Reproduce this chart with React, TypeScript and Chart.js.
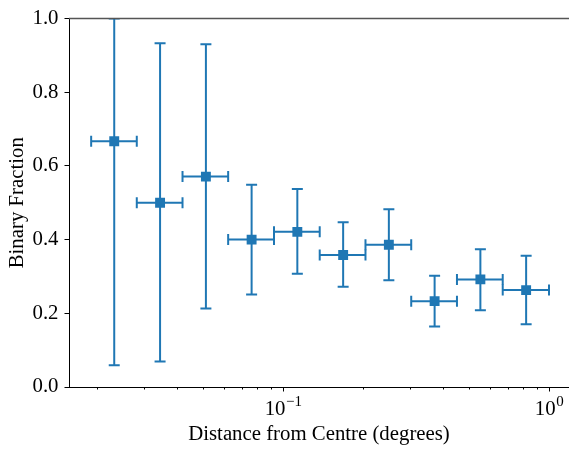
import React, { useEffect, useRef } from "react";
import { Chart, registerables } from "chart.js";

Chart.register(...registerables);

// ---- data ----
const xCenters = [0.0232, 0.0345, 0.0513, 0.0762, 0.1132, 0.1683, 0.25, 0.3715, 0.5521, 0.8204];
const xLow = [0.019, 0.0282, 0.0419, 0.0622, 0.0925, 0.1374, 0.2042, 0.3034, 0.4508, 0.6699];
const xHigh = [0.0282, 0.0419, 0.0622, 0.0925, 0.1374, 0.2042, 0.3034, 0.4508, 0.6699, 1.0];
const binaryFraction = [0.667, 0.5, 0.571, 0.4, 0.421, 0.358, 0.386, 0.233, 0.292, 0.263];
const yLow = [0.059, 0.069, 0.213, 0.251, 0.307, 0.272, 0.29, 0.164, 0.208, 0.17];
const yHigh = [1.0, 0.933, 0.93, 0.549, 0.537, 0.447, 0.482, 0.302, 0.374, 0.356];

const xTickValues = [0.02, 0.03, 0.04, 0.05, 0.06, 0.07, 0.08, 0.09, 0.1, 0.2, 0.3, 0.4, 0.5, 0.6, 0.7, 0.8, 0.9, 1.0];
const xMajorTicks = [0.1, 1.0];
const xMajorExponents = ["\u22121", "0"];
const yTickValues = [0, 0.2, 0.4, 0.6, 0.8, 1.0];

const X_MIN = 0.015683;
const X_MAX = 1.189;
const Y_MIN = 0;
const Y_MAX = 1;

const COLOR = "#1f77b4";
const FONT = "'Liberation Serif', 'Times New Roman', serif";
const FS = 20.8;

const errorBarPlugin = {
  id: "errorBars",
  beforeDatasetsDraw(chart: any) {
    const { ctx, chartArea } = chart;
    const xs = chart.scales.x;
    const ys = chart.scales.y;
    ctx.save();
    ctx.beginPath();
    ctx.rect(chartArea.left, chartArea.top, chartArea.right - chartArea.left, chartArea.bottom - chartArea.top);
    ctx.clip();
    ctx.strokeStyle = COLOR;
    ctx.lineWidth = 2;
    const cap = 5.5;
    for (let i = 0; i < xCenters.length; i++) {
      const px = xs.getPixelForValue(xCenters[i]);
      const py = ys.getPixelForValue(binaryFraction[i]);
      const x0 = xs.getPixelForValue(xLow[i]);
      const x1 = xs.getPixelForValue(xHigh[i]);
      const y0 = ys.getPixelForValue(yLow[i]);
      const y1 = ys.getPixelForValue(yHigh[i]);
      ctx.beginPath();
      ctx.moveTo(x0, py);
      ctx.lineTo(x1, py);
      ctx.moveTo(px, y0);
      ctx.lineTo(px, y1);
      ctx.moveTo(x0, py - cap);
      ctx.lineTo(x0, py + cap);
      ctx.moveTo(x1, py - cap);
      ctx.lineTo(x1, py + cap);
      ctx.moveTo(px - cap, y0);
      ctx.lineTo(px + cap, y0);
      ctx.moveTo(px - cap, y1);
      ctx.lineTo(px + cap, y1);
      ctx.stroke();
    }
    ctx.restore();
  },
  afterDraw(chart: any) {
    const { ctx, chartArea } = chart;
    const xs = chart.scales.x;
    ctx.save();
    // top spine
    ctx.strokeStyle = "#555";
    ctx.lineWidth = 1.6;
    ctx.beginPath();
    ctx.moveTo(chartArea.left, chartArea.top);
    ctx.lineTo(chartArea.right, chartArea.top);
    ctx.stroke();
    // x ticks
    ctx.strokeStyle = "#000";
    ctx.lineWidth = 1;
    for (const v of xTickValues) {
      const px = Math.round(xs.getPixelForValue(v)) + 0.5;
      const isMajor = xMajorTicks.includes(v);
      const len = isMajor ? 4.5 : 2.5;
      ctx.beginPath();
      ctx.moveTo(px, chartArea.bottom);
      ctx.lineTo(px, chartArea.bottom + len);
      ctx.stroke();
    }
    // x tick labels (10^n)
    ctx.fillStyle = "#000";
    ctx.textBaseline = "alphabetic";
    ctx.textAlign = "left";
    xMajorTicks.forEach((v, i) => {
      const px = xs.getPixelForValue(v);
      ctx.font = `${FS}px ${FONT}`;
      const base = "10";
      const wb = ctx.measureText(base).width;
      ctx.font = `${FS * 0.72}px ${FONT}`;
      const we = ctx.measureText(xMajorExponents[i]).width;
      const left = px - (wb + we) / 2;
      const baseY = chartArea.bottom + 28;
      ctx.font = `${FS}px ${FONT}`;
      ctx.fillText(base, left, baseY);
      ctx.font = `${FS * 0.72}px ${FONT}`;
      ctx.fillText(xMajorExponents[i], left + wb + 0.5, baseY - 9);
    });
    ctx.restore();
  },
};

export default function App() {
  const canvasRef = useRef<HTMLCanvasElement | null>(null);

  useEffect(() => {
    const canvas = canvasRef.current;
    if (!canvas) return;
    const chart = new Chart(canvas, {
      type: "scatter",
      data: {
        datasets: [
          {
            label: "Binary Fraction",
            data: xCenters.map((x, i) => ({ x, y: binaryFraction[i] })),
            backgroundColor: COLOR,
            borderColor: COLOR,
            borderWidth: 0,
            pointStyle: "rect",
            pointRadius: 7,
            pointHoverRadius: 7,
          },
        ],
      },
      options: {
        responsive: false,
        animation: false,
        devicePixelRatio: 1,
        layout: { autoPadding: false, padding: { top: 13, left: 0, right: 0, bottom: 0 } },
        plugins: {
          legend: { display: false },
          tooltip: { enabled: false },
        },
        scales: {
          x: {
            type: "logarithmic",
            min: X_MIN,
            max: X_MAX,
            grid: { display: false },
            border: { display: true, color: "#000", width: 1 },
            ticks: { display: false },
            afterBuildTicks: (scale: any) => {
              scale.ticks = xTickValues.map((v) => ({ value: v, major: xMajorTicks.includes(v) }));
            },
            afterFit: (scale: any) => {
              scale.height = 62;
              scale.paddingLeft = 0;
              scale.paddingRight = 0;
            },
            title: {
              display: true,
              text: "Distance from Centre (degrees)",
              color: "#000",
              font: { family: FONT, size: FS, lineHeight: 1.2 },
              padding: { top: 0, bottom: 1.5 },
            },
          },
          y: {
            type: "linear",
            min: Y_MIN,
            max: Y_MAX,
            grid: {
              display: true,
              drawOnChartArea: false,
              drawTicks: true,
              tickLength: 4.5,
              tickColor: "#000",
              tickWidth: 1,
            },
            border: { display: true, color: "#000", width: 1 },
            afterBuildTicks: (scale: any) => {
              scale.ticks = yTickValues.map((v) => ({ value: v }));
            },
            ticks: {
              color: "#000",
              padding: 6,
              font: { family: FONT, size: FS },
              callback: (v: any) => Number(v).toFixed(1),
            },
            afterFit: (scale: any) => {
              scale.width = 69;
            },
            title: {
              display: true,
              text: "Binary Fraction",
              color: "#000",
              font: { family: FONT, size: FS, lineHeight: 1.2 },
              padding: { top: 5.5, bottom: 0 },
            },
          },
        },
      },
      plugins: [errorBarPlugin],
    } as any);
    return () => chart.destroy();
  }, []);

  return (
    <div
      style={{
        position: "fixed",
        left: 0,
        top: 0,
        width: 569,
        height: 449,
        overflow: "hidden",
        background: "#fff",
      }}
    >
      <canvas ref={canvasRef} width={569} height={449} style={{ width: 569, height: 449, display: "block" }} />
    </div>
  );
}
